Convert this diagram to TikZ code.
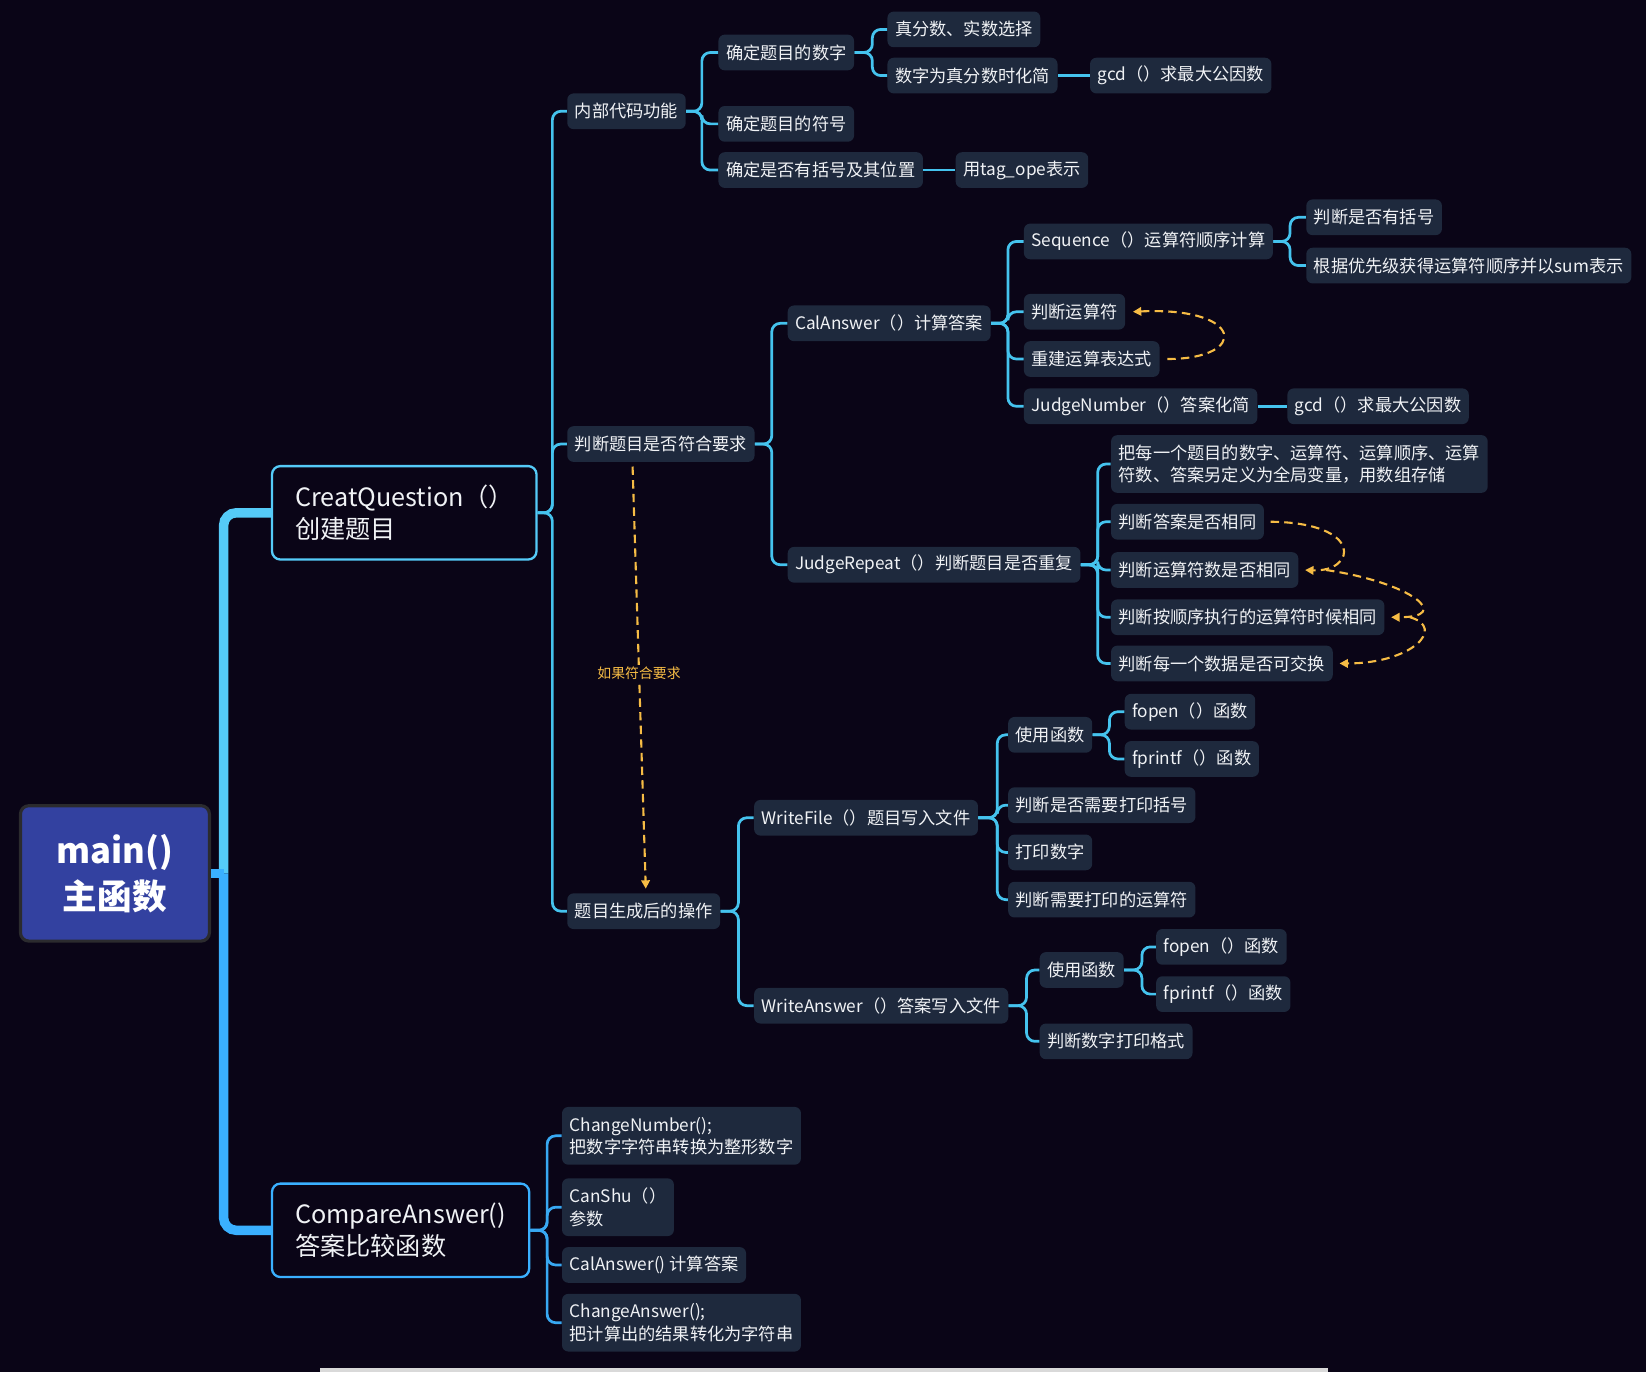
\documentclass[tikz,border=0pt]{standalone}
\usepackage{fontspec}
\setmainfont{Noto Sans CJK SC}
\usetikzlibrary{arrows.meta}
\definecolor{bg}{HTML}{0A0517}
\definecolor{nfill}{HTML}{1E293D}
\definecolor{txt}{HTML}{F0F2F5}
\definecolor{cyanc}{HTML}{45C3EE}
\definecolor{bluec}{HTML}{38A8F2}
\definecolor{trunkup}{HTML}{55CBF8}
\definecolor{trunkdn}{HTML}{3AB0FF}
\definecolor{mainfill}{HTML}{3341A0}
\definecolor{mainbord}{HTML}{2B2B2E}
\definecolor{orng}{HTML}{F6BC45}
\newcommand{\nfont}{\fontsize{8.2}{10.6}\selectfont}
\tikzset{
  leaf/.style={fill=nfill, rounded corners=3pt, text=txt, font=\nfont,
    inner xsep=3.6pt, inner ysep=0pt, minimum height=17pt, anchor=west},
  leaftwo/.style={leaf, align=left, minimum height=27.5pt},
  conn/.style={draw=cyanc, line width=1.3pt, rounded corners=4pt},
  connb/.style={draw=bluec, line width=1.3pt, rounded corners=4pt},
  bigbox/.style={draw=#1, line width=1.1pt, rounded corners=4pt, fill=bg,
    text=txt, font=\fontsize{12}{15}\selectfont, align=left, anchor=west,
    minimum height=44.5pt, inner xsep=11pt},
  dflow/.style={draw=orng, line width=1pt, dash pattern=on 4pt off 2.5pt,
    -{Triangle[length=4pt,width=4pt]}},
}
\begin{document}
\begin{tikzpicture}[x=0.5pt,y=-0.5pt]
\fill[bg] (0,0) rectangle (1568,1307);
\useasboundingbox (0,0) rectangle (1568,1307);
\fill[black!15] (305,1303) rectangle (1265,1307);

% root
\node[fill=mainfill, draw=mainbord, line width=1.5pt, rounded corners=4pt,
  minimum width=90pt, minimum height=64.5pt, text=white, align=center,
  font=\fontsize{16.5}{22}\selectfont\bfseries, anchor=north west] (main) at (18,766) {main()\\主函数};

\node[bigbox=trunkup, text width=104pt] (cq) at (258,488.5) {CreatQuestion（）\\创建题目};
\node[bigbox=trunkdn, text width=100.5pt] (ca) at (258,1172) {CompareAnswer()\\答案比较函数};

\draw[draw=trunkup, line width=4.5pt, rounded corners=6pt] (cq.west) -| ([xshift=6pt]main.east);
\draw[draw=trunkdn, line width=4.5pt, rounded corners=6pt] (ca.west) -| ([xshift=6pt]main.east);
\draw[draw=trunkdn, line width=4.5pt] (main.east) -- ([xshift=6pt]main.east);

% level 2
\node[leaf] (inner) at (540,106) {内部代码功能};
\node[leaf] (judgeq) at (540,423) {判断题目是否符合要求};
\node[leaf] (post) at (540,868) {题目生成后的操作};
\foreach \c in {inner,judgeq,post} \draw[conn] (cq.east) -- ++(14,0) |- (\c.west);

% inner children
\node[leaf] (num) at (684,50) {确定题目的数字};
\node[leaf] (sym) at (684,118) {确定题目的符号};
\node[leaf] (brk) at (684,162) {确定是否有括号及其位置};
\foreach \c in {num,sym,brk} \draw[conn] (inner.east) -- ++(15,0) |- (\c.west);
\node[leaf] (tag) at (910,162) {用tag\_ope表示};
\draw[conn] (brk.east) -- (tag.west);
\node[leaf] (frac) at (845,28) {真分数、实数选择};
\node[leaf] (simp) at (845,72) {数字为真分数时化简};
\foreach \c in {frac,simp} \draw[conn] (num.east) -- ++(17,0) |- (\c.west);
\node[leaf] (gcda) at (1038,72) {gcd（）求最大公因数};
\draw[conn] (simp.east) -- (gcda.west);

% judgeq children
\node[leaf] (cal) at (750,308) {CalAnswer（）计算答案};
\node[leaf] (jr) at (750,538) {JudgeRepeat（）判断题目是否重复};
\foreach \c in {cal,jr} \draw[conn] (judgeq.east) -- ++(16,0) |- (\c.west);

% cal children
\node[leaf] (seq) at (975,230) {Sequence（）运算符顺序计算};
\node[leaf] (jop) at (975,297) {判断运算符};
\node[leaf] (reb) at (975,342) {重建运算表达式};
\node[leaf] (jn) at (975,387) {JudgeNumber（）答案化简};
\foreach \c in {seq,jop,reb,jn} \draw[conn] (cal.east) -- ++(16,0) |- (\c.west);
\node[leaf] (hasb) at (1244,207) {判断是否有括号};
\node[leaf] (prio) at (1244,253) {根据优先级获得运算符顺序并以sum表示};
\foreach \c in {hasb,prio} \draw[conn] (seq.east) -- ++(16,0) |- (\c.west);
\node[leaf] (gcdb) at (1226,387) {gcd（）求最大公因数};
\draw[conn] (jn.east) -- (gcdb.west);
\draw[dflow] ([xshift=3.5pt]reb.east) .. controls (1190,342) and (1186,292) .. ([xshift=3.5pt]jop.east);

% jr children
\node[leaftwo] (glob) at (1058,442) {把每一个题目的数字、运算符、运算顺序、运算\\符数、答案另定义为全局变量，用数组存储};
\node[leaf] (rans) at (1058,497) {判断答案是否相同};
\node[leaf] (rops) at (1058,543) {判断运算符数是否相同};
\node[leaf] (rord) at (1058,588) {判断按顺序执行的运算符时候相同};
\node[leaf] (rswp) at (1058,632) {判断每一个数据是否可交换};
\foreach \c in {glob,rans,rops,rord,rswp} \draw[conn] (jr.east) -- ++(16,0) |- (\c.west);
\draw[dflow] ([xshift=3pt]rans.east) .. controls (1300,498) and (1292,545) .. ([xshift=3pt]rops.east);
\draw[dflow] ([xshift=13pt]rops.east) .. controls (1345,555) and (1385,588) .. ([xshift=3pt]rord.east);
\draw[dflow] ([xshift=12pt]rord.east) .. controls (1378,598) and (1345,632) .. ([xshift=3pt]rswp.east);

% if ok arrow
\draw[dflow] ([xshift=-13.5pt,yshift=-2pt]judgeq.south) -- node[fill=bg, text=orng, inner sep=1pt, font=\fontsize{6.6}{8}\selectfont, pos=0.49] (ifok) {如果符合要求} ([xshift=1pt,yshift=2pt]post.north);

% post children
\node[leaf] (wf) at (718,779) {WriteFile（）题目写入文件};
\node[leaf] (wa) at (718,958) {WriteAnswer（）答案写入文件};
\foreach \c in {wf,wa} \draw[conn] (post.east) -- ++(17,0) |- (\c.west);
\node[leaf] (use1) at (960,700) {使用函数};
\node[leaf] (pbr) at (960,767) {判断是否需要打印括号};
\node[leaf] (pnum) at (960,812) {打印数字};
\node[leaf] (pop) at (960,857) {判断需要打印的运算符};
\foreach \c in {use1,pbr,pnum,pop} \draw[conn] (wf.east) -- ++(18,0) |- (\c.west);
\node[leaf] (fo1) at (1071,678) {fopen（）函数};
\node[leaf] (fp1) at (1071,723) {fprintf（）函数};
\foreach \c in {fo1,fp1} \draw[conn] (use1.east) -- ++(16,0) |- (\c.west);
\node[leaf] (use2) at (990,924) {使用函数};
\node[leaf] (pfmt) at (990,992) {判断数字打印格式};
\foreach \c in {use2,pfmt} \draw[conn] (wa.east) -- ++(17,0) |- (\c.west);
\node[leaf] (fo2) at (1101,902) {fopen（）函数};
\node[leaf] (fp2) at (1101,947) {fprintf（）函数};
\foreach \c in {fo2,fp2} \draw[conn] (use2.east) -- ++(17,0) |- (\c.west);

% compare children
\node[leaftwo] (chn) at (535,1082) {ChangeNumber();\\把数字字符串转换为整形数字};
\node[leaftwo] (cs) at (535,1150) {CanShu（）\\参数};
\node[leaf] (cal2) at (535,1205) {CalAnswer() 计算答案};
\node[leaftwo] (cha) at (535,1260) {ChangeAnswer();\\把计算出的结果转化为字符串};
\foreach \c in {chn,cs,cal2,cha} \draw[connb] (ca.east) -- ++(16,0) |- (\c.west);
\end{tikzpicture}
\end{document}
